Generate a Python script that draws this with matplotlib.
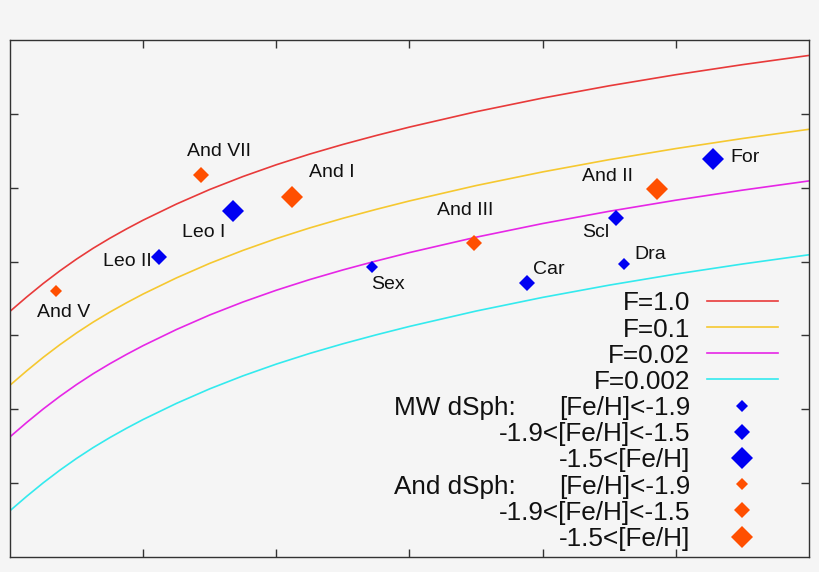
import matplotlib
matplotlib.use("Agg")
import matplotlib.pyplot as plt

plt.rcParams['font.family'] = ['Liberation Sans', 'DejaVu Sans']

# ---------------- data ----------------
curve_x = [0, 0.125, 0.25, 0.375, 0.5, 0.625, 0.75, 0.875, 1, 1.25, 1.5, 1.75, 2,
           2.25, 2.5, 2.75, 3, 3.5, 4, 4.5, 5, 5.5, 6]
curve_F1 = [3.326, 3.520, 3.704, 3.875, 4.034, 4.181, 4.316, 4.442, 4.561, 4.779, 4.976,
            5.152, 5.311, 5.455, 5.586, 5.707, 5.821, 6.029, 6.214, 6.380, 6.530, 6.666, 6.791]
curve_F01 = [2.326, 2.520, 2.704, 2.875, 3.034, 3.181, 3.316, 3.442, 3.561, 3.779, 3.976,
             4.152, 4.311, 4.455, 4.586, 4.707, 4.821, 5.029, 5.214, 5.380, 5.530, 5.666, 5.791]
curve_F002 = [1.627, 1.821, 2.005, 2.176, 2.335, 2.482, 2.617, 2.743, 2.862, 3.080, 3.277,
              3.453, 3.612, 3.756, 3.887, 4.008, 4.122, 4.330, 4.515, 4.681, 4.831, 4.967, 5.092]
curve_F0002 = [0.627, 0.821, 1.005, 1.176, 1.335, 1.482, 1.617, 1.743, 1.862, 2.080, 2.277,
               2.453, 2.612, 2.756, 2.887, 3.008, 3.122, 3.330, 3.515, 3.681, 3.831, 3.967, 4.092]
curve_labels = ['F=1.0', 'F=0.1', 'F=0.02', 'F=0.002']

gal_names = ['And V', 'Leo II', 'And VII', 'Leo I', 'And I', 'Sex', 'And III',
             'Car', 'Dra', 'Scl', 'And II', 'For']
gal_x = [0.345, 1.119, 1.434, 1.677, 2.118, 2.717, 3.487, 3.879, 4.609, 4.548, 4.856, 5.281]
gal_y = [3.601, 4.066, 5.172, 4.689, 4.878, 3.930, 4.255, 3.714, 3.963, 4.586, 4.982, 5.389]
gal_host = ['And', 'MW', 'And', 'MW', 'And', 'MW', 'And', 'MW', 'MW', 'MW', 'And', 'MW']
gal_feh_bin = [0, 1, 1, 2, 2, 0, 1, 1, 0, 1, 2, 2]  # 0: <-1.9, 1: -1.9..-1.5, 2: >-1.5

feh_labels = ['[Fe/H]<-1.9', '-1.9<[Fe/H]<-1.5', '-1.5<[Fe/H]']
host_labels = ['MW dSph:', 'And dSph:']

# ---------------- style ----------------
bg = '#f5f5f5'
line_colors = ['#e83a3a', '#f5c830', '#e626e6', '#33eaee']
host_colors = {'MW': '#0000f2', 'And': '#ff4f00'}
msizes = [6.0, 8.2, 11.3]
# label offsets in pixels (dx, dy up positive), alignment
label_style = {
    'And V': (-19, -21, 'left'),
    'Leo II': (-7, -5, 'right'),
    'And VII': (-14, 24, 'left'),
    'Leo I': (-8, -22, 'right'),
    'And I': (17, 24, 'left'),
    'Sex': (-1, -17.5, 'left'),
    'And III': (-37.5, 32, 'left'),
    'Car': (6.5, 13.5, 'left'),
    'Dra': (10.5, 9.5, 'left'),
    'Scl': (-6.5, -14, 'right'),
    'And II': (-23.5, 13, 'right'),
    'For': (17.5, 1.2, 'left'),
}

W, H = 820, 572
fig = plt.figure(figsize=(W / 100, H / 100), dpi=100, facecolor=bg)
ax = fig.add_axes([10 / W, 15 / H, 799 / W, 517 / H], facecolor=bg)
ax.set_xlim(0, 6)
ax.set_ylim(0, 7)

for ys, c in zip([curve_F1, curve_F01, curve_F002, curve_F0002], line_colors):
    ax.plot(curve_x, ys, color=c, lw=1.2, solid_capstyle='butt')

for name, x, y, host, b in zip(gal_names, gal_x, gal_y, gal_host, gal_feh_bin):
    ax.plot([x], [y], marker='D', ms=msizes[b], color=host_colors[host], mew=0, ls='none')
    dx, dy, ha = label_style[name]
    ax.annotate(name, (x, y), xytext=(dx * 0.72, dy * 0.72), textcoords='offset points',
                ha=ha, va='center', fontsize=14, color='#111111')

ax.set_xticks([1, 2, 3, 4, 5])
ax.set_yticks([1, 2, 3, 4, 5, 6])
ax.tick_params(direction='in', length=5.5, width=1, color='#333333',
               top=True, right=True, labelbottom=False, labelleft=False)
for s in ax.spines.values():
    s.set_color('#333333')
    s.set_linewidth(1.0)

# ---------------- legend (gnuplot style) ----------------
def fx(px):
    return (px - 10) / 799

def fy(py):
    return (557 - py) / 517

row_y = [301, 327.3, 353.3, 379.2, 405.5, 431.7, 457.9, 484.1, 510.3, 536.5]
txt_right = 690
lfs = 18.8
for i, (lab, c) in enumerate(zip(curve_labels, line_colors)):
    yy = row_y[i]
    ax.text(fx(txt_right), fy(yy), lab, transform=ax.transAxes, ha='right',
            va='center_baseline', fontsize=lfs, color='#111111')
    ax.plot([fx(707), fx(778)], [fy(yy), fy(yy)], transform=ax.transAxes,
            color=c, lw=1.2, clip_on=False)
for h, host in enumerate(['MW', 'And']):
    for b in range(3):
        yy = row_y[4 + 3 * h + b]
        ax.text(fx(txt_right), fy(yy), feh_labels[b], transform=ax.transAxes, ha='right',
                va='center_baseline', fontsize=lfs, color='#111111')
        ax.plot([fx(742.5)], [fy(yy)], transform=ax.transAxes, marker='D',
                ms=msizes[b], color=host_colors[host], mew=0, ls='none', clip_on=False)
    ax.text(fx(394), fy(row_y[4 + 3 * h]), host_labels[h], transform=ax.transAxes,
            ha='left', va='center_baseline', fontsize=lfs, color='#111111')

fig.savefig('out.png', dpi=100, facecolor=bg)
